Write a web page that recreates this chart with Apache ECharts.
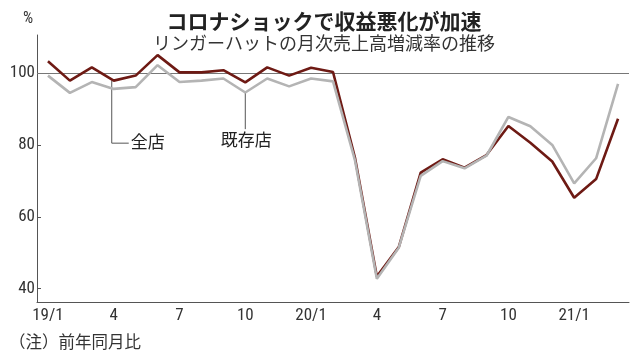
<!DOCTYPE html>
<html>
<head>
<meta charset="utf-8">
<script src="https://cdn.jsdelivr.net/npm/echarts@6/dist/echarts.min.js"></script>
<style>
html,body{margin:0;padding:0;background:#fff;}
#c{width:638px;height:357px;}
</style>
</head>
<body>
<div id="c"></div>
<script>
const categories = ["19/1","2","3","4","5","6","7","8","9","10","11","12",
  "20/1","2","3","4","5","6","7","8","9","10","11","12",
  "21/1","2","3"];
const tickLabels = {0:"19/1",3:"4",6:"7",9:"10",12:"20/1",15:"4",18:"7",21:"10",24:"21/1"};
const allStores = [103.3,97.9,101.6,97.9,99.3,105.0,100.2,100.2,100.8,97.4,101.6,99.3,
  101.5,100.3,76.5,43.4,51.6,72.3,76.0,73.7,77.2,85.3,80.6,75.4,65.3,70.5,87.3];
const existingStores = [99.3,94.5,97.5,95.6,96.1,102.2,97.5,97.9,98.5,94.6,98.5,96.3,
  98.5,97.7,75.8,42.8,51.4,71.4,75.5,73.5,77.0,87.8,85.2,80.0,69.3,76.3,97.0];
const yTicks = [40,60,80,100];

const CJK = '"Noto Sans CJK JP", "Noto Sans", sans-serif';
const NUM = '"Liberation Sans Narrow", "Roboto Condensed", "Liberation Sans", sans-serif';

const chart = echarts.init(document.getElementById('c'), null, {renderer:'canvas'});
chart.setOption({
  animation:false,
  backgroundColor:'#fff',
  title:[
    {text:'コロナショックで収益悪化が加速', left:319, top:6, textAlign:'center',
     textStyle:{fontFamily:CJK, fontSize:21, fontWeight:'bold', color:'#222'}},
    {text:'リンガーハットの月次売上高増減率の推移', left:319, top:29, textAlign:'center',
     textStyle:{fontFamily:CJK, fontSize:18, fontWeight:'normal', color:'#333'}}
  ],
  grid:{left:37, right:9, top:35, bottom:55, containLabel:false},
  xAxis:{
    type:'category', data:categories, boundaryGap:true,
    axisLine:{lineStyle:{color:'#555', width:1}},
    axisTick:{inside:true, length:4, alignWithLabel:true, interval:2, lineStyle:{color:'#555'}},
    axisLabel:{interval:2, margin:5, color:'#333', fontFamily:NUM, fontSize:17,
      formatter:(v,i)=>tickLabels[i] || ''},
    splitLine:{show:false}
  },
  yAxis:{
    type:'value', min:36.3, max:110.6,
    axisLine:{show:true, lineStyle:{color:'#555', width:1}},
    axisTick:{show:true, inside:true, length:4, customValues:yTicks, lineStyle:{color:'#555'}},
    axisLabel:{customValues:yTicks, margin:2, color:'#333', fontFamily:NUM, fontSize:17},
    splitLine:{show:false}
  },
  series:[
    {name:'全店', type:'line', data:allStores, symbol:'none',
     lineStyle:{color:'#6e1a14', width:2.6}, z:3,
     markLine:{silent:true, symbol:'none', label:{show:false},
       lineStyle:{color:'#777', width:1, type:'solid'},
       data:[{yAxis:100}], z:1}},
    {name:'既存店', type:'line', data:existingStores, symbol:'none',
     lineStyle:{color:'#b4b4b4', width:2.6}, z:4}
  ]
});

// Annotation leaders computed from data coordinates
const p1 = chart.convertToPixel({xAxisIndex:0, yAxisIndex:0}, [3, allStores[3]]);
const p1b = chart.convertToPixel({xAxisIndex:0, yAxisIndex:0}, [3, 80.5]);
const p2 = chart.convertToPixel({xAxisIndex:0, yAxisIndex:0}, [9, existingStores[9]]);
const p2b = chart.convertToPixel({xAxisIndex:0, yAxisIndex:0}, [9, 84.4]);
chart.setOption({
  graphic:[
    {type:'polyline', shape:{points:[[p1[0]-2,p1[1]],[p1[0]-2,p1b[1]],[p1[0]+15,p1b[1]]]},
     style:{stroke:'#555', lineWidth:1, fill:null}, z:1},
    {type:'text', left:p1[0]+17, top:p1b[1]-10,
     style:{text:'全店', font:'17px '+CJK, fill:'#222'}},
    {type:'line', shape:{x1:p2[0], y1:p2[1], x2:p2[0], y2:p2b[1]},
     style:{stroke:'#555', lineWidth:1}, z:1},
    {type:'text', x:p2[0]+1, y:p2b[1]+2,
     style:{text:'既存店', font:'17px '+CJK, fill:'#222', align:'center', verticalAlign:'top'}},
    {type:'text', x:28, y:19,
     style:{text:'%', font:'16px '+NUM, fill:'#333', align:'center', verticalAlign:'middle'}},
    {type:'text', left:9, top:333,
     style:{text:'（注）前年同月比', font:'16.5px '+CJK, fill:'#333'}}
  ]
});
</script>
</body>
</html>
